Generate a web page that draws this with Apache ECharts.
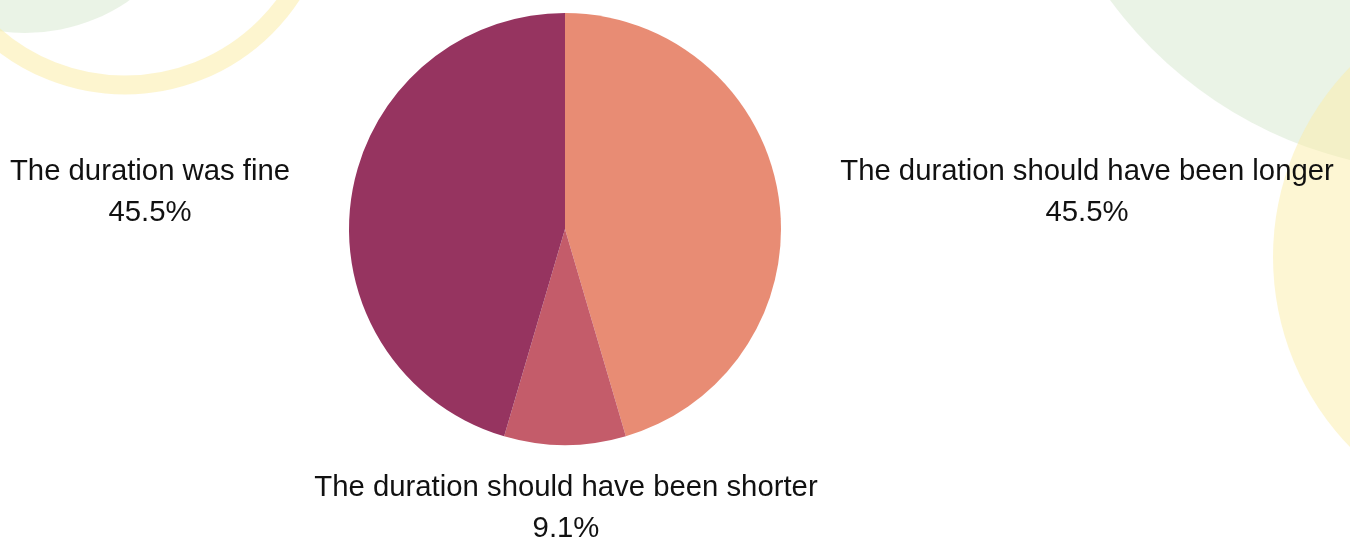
<!DOCTYPE html>
<html>
<head>
<meta charset="utf-8">
<script src="https://cdn.jsdelivr.net/npm/echarts@6/dist/echarts.min.js"></script>
<style>
html,body{margin:0;padding:0;background:#fff;}
#chart{width:1350px;height:541px;}
</style>
</head>
<body>
<div id="chart"></div>
<script>
const categories = ['The duration should have been longer', 'The duration should have been shorter', 'The duration was fine'];
const counts = [5, 1, 5];
const sliceColors = ['#e88c74', '#c45c6a', '#963460'];
const labelSpots = [[1087, 192], [566, 508], [150, 192]];

const chart = echarts.init(document.getElementById('chart'), null, {renderer: 'canvas'});
chart.setOption({
  backgroundColor: '#ffffff',
  animation: false,
  graphic: [
    {type: 'circle', z: -10, shape: {cx: 25, cy: -150, r: 183}, style: {fill: 'rgba(213,232,205,0.5)'}},
    {type: 'circle', z: -10, shape: {cx: 125, cy: -114, r: 199}, style: {fill: 'none', stroke: 'rgba(251,235,160,0.5)', lineWidth: 19}},
    {type: 'circle', z: -10, shape: {cx: 1450, cy: -250, r: 422}, style: {fill: 'rgba(213,232,205,0.5)'}},
    {type: 'circle', z: -10, shape: {cx: 1546, cy: 257, r: 273}, style: {fill: 'rgba(251,237,167,0.5)'}}
  ],
  series: [{
    type: 'pie',
    center: [565, 229],
    radius: [0, 216],
    startAngle: 90,
    clockwise: true,
    avoidLabelOverlap: false,
    itemStyle: {borderWidth: 0},
    emphasis: {disabled: true},
    label: {
      show: true,
      position: 'outside',
      formatter: p => p.name + '\n' + p.percent.toFixed(1) + '%',
      fontFamily: '"Liberation Sans", Arial, sans-serif',
      fontSize: 29.3,
      lineHeight: 41,
      color: '#111',
      align: 'center'
    },
    labelLine: {show: false},
    labelLayout: function (params) {
      const s = labelSpots[params.dataIndex];
      return {x: s[0], y: s[1], align: 'center', verticalAlign: 'middle'};
    },
    data: categories.map((c, i) => ({name: c, value: counts[i], itemStyle: {color: sliceColors[i]}}))
  }]
});
</script>
</body>
</html>
